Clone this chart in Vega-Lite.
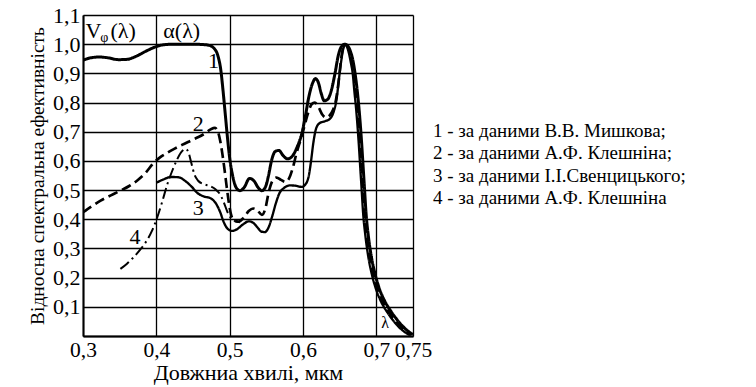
{
  "$schema": "https://vega.github.io/schema/vega-lite/v6.json",
  "width": 330,
  "height": 321,
  "autosize": {"type": "none"},
  "padding": {"left": 83, "top": 15, "right": 343, "bottom": 51},
  "background": "white",
  "config": {
    "view": {"stroke": null},
    "font": "Liberation Serif",
    "locale": {"number": {"decimal": ",", "thousands": " ", "grouping": [3], "currency": ["", ""]}},
    "axis": {"labelOverlap": false, "labelFlush": false, "labelBound": false}
  },
  "datasets": {
    "curves": [
      {"s": "1 - за даними В.В. Мишкова;", "x": 0.300, "y": 0.945},
      {"s": "1 - за даними В.В. Мишкова;", "x": 0.310, "y": 0.953},
      {"s": "1 - за даними В.В. Мишкова;", "x": 0.322, "y": 0.956},
      {"s": "1 - за даними В.В. Мишкова;", "x": 0.335, "y": 0.953},
      {"s": "1 - за даними В.В. Мишкова;", "x": 0.348, "y": 0.947},
      {"s": "1 - за даними В.В. Мишкова;", "x": 0.360, "y": 0.948},
      {"s": "1 - за даними В.В. Мишкова;", "x": 0.372, "y": 0.958},
      {"s": "1 - за даними В.В. Мишкова;", "x": 0.385, "y": 0.975},
      {"s": "1 - за даними В.В. Мишкова;", "x": 0.398, "y": 0.990},
      {"s": "1 - за даними В.В. Мишкова;", "x": 0.410, "y": 0.998},
      {"s": "1 - за даними В.В. Мишкова;", "x": 0.425, "y": 1.000},
      {"s": "1 - за даними В.В. Мишкова;", "x": 0.445, "y": 1.000},
      {"s": "1 - за даними В.В. Мишкова;", "x": 0.462, "y": 0.999},
      {"s": "1 - за даними В.В. Мишкова;", "x": 0.472, "y": 0.996},
      {"s": "1 - за даними В.В. Мишкова;", "x": 0.479, "y": 0.985},
      {"s": "1 - за даними В.В. Мишкова;", "x": 0.484, "y": 0.960},
      {"s": "1 - за даними В.В. Мишкова;", "x": 0.488, "y": 0.910},
      {"s": "1 - за даними В.В. Мишкова;", "x": 0.491, "y": 0.840},
      {"s": "1 - за даними В.В. Мишкова;", "x": 0.494, "y": 0.760},
      {"s": "1 - за даними В.В. Мишкова;", "x": 0.497, "y": 0.680},
      {"s": "1 - за даними В.В. Мишкова;", "x": 0.500, "y": 0.610},
      {"s": "1 - за даними В.В. Мишкова;", "x": 0.504, "y": 0.550},
      {"s": "1 - за даними В.В. Мишкова;", "x": 0.509, "y": 0.508},
      {"s": "1 - за даними В.В. Мишкова;", "x": 0.514, "y": 0.498},
      {"s": "1 - за даними В.В. Мишкова;", "x": 0.520, "y": 0.510},
      {"s": "1 - за даними В.В. Мишкова;", "x": 0.527, "y": 0.540},
      {"s": "1 - за даними В.В. Мишкова;", "x": 0.533, "y": 0.532},
      {"s": "1 - за даними В.В. Мишкова;", "x": 0.539, "y": 0.508},
      {"s": "1 - за даними В.В. Мишкова;", "x": 0.544, "y": 0.498},
      {"s": "1 - за даними В.В. Мишкова;", "x": 0.549, "y": 0.512},
      {"s": "1 - за даними В.В. Мишкова;", "x": 0.553, "y": 0.550},
      {"s": "1 - за даними В.В. Мишкова;", "x": 0.557, "y": 0.600},
      {"s": "1 - за даними В.В. Мишкова;", "x": 0.562, "y": 0.632},
      {"s": "1 - за даними В.В. Мишкова;", "x": 0.567, "y": 0.636},
      {"s": "1 - за даними В.В. Мишкова;", "x": 0.573, "y": 0.618},
      {"s": "1 - за даними В.В. Мишкова;", "x": 0.579, "y": 0.607},
      {"s": "1 - за даними В.В. Мишкова;", "x": 0.586, "y": 0.618},
      {"s": "1 - за даними В.В. Мишкова;", "x": 0.592, "y": 0.648},
      {"s": "1 - за даними В.В. Мишкова;", "x": 0.598, "y": 0.690},
      {"s": "1 - за даними В.В. Мишкова;", "x": 0.603, "y": 0.750},
      {"s": "1 - за даними В.В. Мишкова;", "x": 0.608, "y": 0.820},
      {"s": "1 - за даними В.В. Мишкова;", "x": 0.613, "y": 0.866},
      {"s": "1 - за даними В.В. Мишкова;", "x": 0.617, "y": 0.882},
      {"s": "1 - за даними В.В. Мишкова;", "x": 0.621, "y": 0.868},
      {"s": "1 - за даними В.В. Мишкова;", "x": 0.625, "y": 0.830},
      {"s": "1 - за даними В.В. Мишкова;", "x": 0.629, "y": 0.806},
      {"s": "1 - за даними В.В. Мишкова;", "x": 0.634, "y": 0.812},
      {"s": "1 - за даними В.В. Мишкова;", "x": 0.639, "y": 0.845},
      {"s": "1 - за даними В.В. Мишкова;", "x": 0.644, "y": 0.905},
      {"s": "1 - за даними В.В. Мишкова;", "x": 0.648, "y": 0.960},
      {"s": "1 - за даними В.В. Мишкова;", "x": 0.652, "y": 0.990},
      {"s": "1 - за даними В.В. Мишкова;", "x": 0.657, "y": 1.000},
      {"s": "1 - за даними В.В. Мишкова;", "x": 0.660, "y": 0.997},
      {"s": "1 - за даними В.В. Мишкова;", "x": 0.664, "y": 0.980},
      {"s": "1 - за даними В.В. Мишкова;", "x": 0.668, "y": 0.945},
      {"s": "1 - за даними В.В. Мишкова;", "x": 0.671, "y": 0.900},
      {"s": "1 - за даними В.В. Мишкова;", "x": 0.674, "y": 0.840},
      {"s": "1 - за даними В.В. Мишкова;", "x": 0.676, "y": 0.790},
      {"s": "1 - за даними В.В. Мишкова;", "x": 0.678, "y": 0.730},
      {"s": "1 - за даними В.В. Мишкова;", "x": 0.680, "y": 0.660},
      {"s": "1 - за даними В.В. Мишкова;", "x": 0.682, "y": 0.580},
      {"s": "1 - за даними В.В. Мишкова;", "x": 0.684, "y": 0.500},
      {"s": "1 - за даними В.В. Мишкова;", "x": 0.686, "y": 0.420},
      {"s": "1 - за даними В.В. Мишкова;", "x": 0.689, "y": 0.345},
      {"s": "1 - за даними В.В. Мишкова;", "x": 0.693, "y": 0.275},
      {"s": "1 - за даними В.В. Мишкова;", "x": 0.698, "y": 0.215},
      {"s": "1 - за даними В.В. Мишкова;", "x": 0.704, "y": 0.163},
      {"s": "1 - за даними В.В. Мишкова;", "x": 0.711, "y": 0.122},
      {"s": "1 - за даними В.В. Мишкова;", "x": 0.719, "y": 0.088},
      {"s": "1 - за даними В.В. Мишкова;", "x": 0.727, "y": 0.060},
      {"s": "1 - за даними В.В. Мишкова;", "x": 0.735, "y": 0.036},
      {"s": "1 - за даними В.В. Мишкова;", "x": 0.743, "y": 0.017},
      {"s": "1 - за даними В.В. Мишкова;", "x": 0.750, "y": 0.005},

      {"s": "2 - за даними А.Ф. Клешніна;", "x": 0.300, "y": 0.424},
      {"s": "2 - за даними А.Ф. Клешніна;", "x": 0.312, "y": 0.445},
      {"s": "2 - за даними А.Ф. Клешніна;", "x": 0.324, "y": 0.464},
      {"s": "2 - за даними А.Ф. Клешніна;", "x": 0.338, "y": 0.482},
      {"s": "2 - за даними А.Ф. Клешніна;", "x": 0.351, "y": 0.498},
      {"s": "2 - за даними А.Ф. Клешніна;", "x": 0.363, "y": 0.514},
      {"s": "2 - за даними А.Ф. Клешніна;", "x": 0.374, "y": 0.533},
      {"s": "2 - за даними А.Ф. Клешніна;", "x": 0.385, "y": 0.558},
      {"s": "2 - за даними А.Ф. Клешніна;", "x": 0.396, "y": 0.592},
      {"s": "2 - за даними А.Ф. Клешніна;", "x": 0.405, "y": 0.612},
      {"s": "2 - за даними А.Ф. Клешніна;", "x": 0.415, "y": 0.628},
      {"s": "2 - за даними А.Ф. Клешніна;", "x": 0.425, "y": 0.642},
      {"s": "2 - за даними А.Ф. Клешніна;", "x": 0.435, "y": 0.655},
      {"s": "2 - за даними А.Ф. Клешніна;", "x": 0.450, "y": 0.673},
      {"s": "2 - за даними А.Ф. Клешніна;", "x": 0.465, "y": 0.692},
      {"s": "2 - за даними А.Ф. Клешніна;", "x": 0.474, "y": 0.708},
      {"s": "2 - за даними А.Ф. Клешніна;", "x": 0.480, "y": 0.713},
      {"s": "2 - за даними А.Ф. Клешніна;", "x": 0.484, "y": 0.700},
      {"s": "2 - за даними А.Ф. Клешніна;", "x": 0.487, "y": 0.670},
      {"s": "2 - за даними А.Ф. Клешніна;", "x": 0.490, "y": 0.625},
      {"s": "2 - за даними А.Ф. Клешніна;", "x": 0.493, "y": 0.570},
      {"s": "2 - за даними А.Ф. Клешніна;", "x": 0.496, "y": 0.510},
      {"s": "2 - за даними А.Ф. Клешніна;", "x": 0.499, "y": 0.455},
      {"s": "2 - за даними А.Ф. Клешніна;", "x": 0.502, "y": 0.415},
      {"s": "2 - за даними А.Ф. Клешніна;", "x": 0.506, "y": 0.395},
      {"s": "2 - за даними А.Ф. Клешніна;", "x": 0.512, "y": 0.392},
      {"s": "2 - за даними А.Ф. Клешніна;", "x": 0.519, "y": 0.405},
      {"s": "2 - за даними А.Ф. Клешніна;", "x": 0.526, "y": 0.428},
      {"s": "2 - за даними А.Ф. Клешніна;", "x": 0.532, "y": 0.437},
      {"s": "2 - за даними А.Ф. Клешніна;", "x": 0.538, "y": 0.430},
      {"s": "2 - за даними А.Ф. Клешніна;", "x": 0.544, "y": 0.415},
      {"s": "2 - за даними А.Ф. Клешніна;", "x": 0.549, "y": 0.440},
      {"s": "2 - за даними А.Ф. Клешніна;", "x": 0.553, "y": 0.490},
      {"s": "2 - за даними А.Ф. Клешніна;", "x": 0.558, "y": 0.530},
      {"s": "2 - за даними А.Ф. Клешніна;", "x": 0.564, "y": 0.543},
      {"s": "2 - за даними А.Ф. Клешніна;", "x": 0.570, "y": 0.535},
      {"s": "2 - за даними А.Ф. Клешніна;", "x": 0.576, "y": 0.528},
      {"s": "2 - за даними А.Ф. Клешніна;", "x": 0.581, "y": 0.540},
      {"s": "2 - за даними А.Ф. Клешніна;", "x": 0.586, "y": 0.575},
      {"s": "2 - за даними А.Ф. Клешніна;", "x": 0.591, "y": 0.625},
      {"s": "2 - за даними А.Ф. Клешніна;", "x": 0.597, "y": 0.675},
      {"s": "2 - за даними А.Ф. Клешніна;", "x": 0.602, "y": 0.720},
      {"s": "2 - за даними А.Ф. Клешніна;", "x": 0.607, "y": 0.765},
      {"s": "2 - за даними А.Ф. Клешніна;", "x": 0.612, "y": 0.795},
      {"s": "2 - за даними А.Ф. Клешніна;", "x": 0.616, "y": 0.800},
      {"s": "2 - за даними А.Ф. Клешніна;", "x": 0.621, "y": 0.785},
      {"s": "2 - за даними А.Ф. Клешніна;", "x": 0.626, "y": 0.760},
      {"s": "2 - за даними А.Ф. Клешніна;", "x": 0.631, "y": 0.749},
      {"s": "2 - за даними А.Ф. Клешніна;", "x": 0.636, "y": 0.755},
      {"s": "2 - за даними А.Ф. Клешніна;", "x": 0.641, "y": 0.775},
      {"s": "2 - за даними А.Ф. Клешніна;", "x": 0.645, "y": 0.810},
      {"s": "2 - за даними А.Ф. Клешніна;", "x": 0.649, "y": 0.880},
      {"s": "2 - за даними А.Ф. Клешніна;", "x": 0.652, "y": 0.950},
      {"s": "2 - за даними А.Ф. Клешніна;", "x": 0.656, "y": 0.995},
      {"s": "2 - за даними А.Ф. Клешніна;", "x": 0.659, "y": 0.997},
      {"s": "2 - за даними А.Ф. Клешніна;", "x": 0.663, "y": 0.978},
      {"s": "2 - за даними А.Ф. Клешніна;", "x": 0.666, "y": 0.945},
      {"s": "2 - за даними А.Ф. Клешніна;", "x": 0.669, "y": 0.900},
      {"s": "2 - за даними А.Ф. Клешніна;", "x": 0.672, "y": 0.840},
      {"s": "2 - за даними А.Ф. Клешніна;", "x": 0.674, "y": 0.790},
      {"s": "2 - за даними А.Ф. Клешніна;", "x": 0.676, "y": 0.730},
      {"s": "2 - за даними А.Ф. Клешніна;", "x": 0.678, "y": 0.660},
      {"s": "2 - за даними А.Ф. Клешніна;", "x": 0.680, "y": 0.580},
      {"s": "2 - за даними А.Ф. Клешніна;", "x": 0.682, "y": 0.500},
      {"s": "2 - за даними А.Ф. Клешніна;", "x": 0.684, "y": 0.420},
      {"s": "2 - за даними А.Ф. Клешніна;", "x": 0.687, "y": 0.345},
      {"s": "2 - за даними А.Ф. Клешніна;", "x": 0.691, "y": 0.275},
      {"s": "2 - за даними А.Ф. Клешніна;", "x": 0.696, "y": 0.213},
      {"s": "2 - за даними А.Ф. Клешніна;", "x": 0.702, "y": 0.160},
      {"s": "2 - за даними А.Ф. Клешніна;", "x": 0.709, "y": 0.118},
      {"s": "2 - за даними А.Ф. Клешніна;", "x": 0.717, "y": 0.084},
      {"s": "2 - за даними А.Ф. Клешніна;", "x": 0.725, "y": 0.056},
      {"s": "2 - за даними А.Ф. Клешніна;", "x": 0.733, "y": 0.033},
      {"s": "2 - за даними А.Ф. Клешніна;", "x": 0.741, "y": 0.015},
      {"s": "2 - за даними А.Ф. Клешніна;", "x": 0.748, "y": 0.004},

      {"s": "3 - за даними І.І.Свенцицького;", "x": 0.400, "y": 0.525},
      {"s": "3 - за даними І.І.Свенцицького;", "x": 0.410, "y": 0.537},
      {"s": "3 - за даними І.І.Свенцицького;", "x": 0.420, "y": 0.545},
      {"s": "3 - за даними І.І.Свенцицького;", "x": 0.430, "y": 0.544},
      {"s": "3 - за даними І.І.Свенцицького;", "x": 0.440, "y": 0.530},
      {"s": "3 - за даними І.І.Свенцицького;", "x": 0.448, "y": 0.512},
      {"s": "3 - за даними І.І.Свенцицького;", "x": 0.456, "y": 0.490},
      {"s": "3 - за даними І.І.Свенцицького;", "x": 0.465, "y": 0.478},
      {"s": "3 - за даними І.І.Свенцицького;", "x": 0.474, "y": 0.472},
      {"s": "3 - за даними І.І.Свенцицького;", "x": 0.481, "y": 0.455},
      {"s": "3 - за даними І.І.Свенцицького;", "x": 0.487, "y": 0.425},
      {"s": "3 - за даними І.І.Свенцицького;", "x": 0.492, "y": 0.390},
      {"s": "3 - за даними І.І.Свенцицького;", "x": 0.497, "y": 0.368},
      {"s": "3 - за даними І.І.Свенцицького;", "x": 0.503, "y": 0.360},
      {"s": "3 - за даними І.І.Свенцицького;", "x": 0.510, "y": 0.366},
      {"s": "3 - за даними І.І.Свенцицького;", "x": 0.518, "y": 0.382},
      {"s": "3 - за даними І.І.Свенцицького;", "x": 0.526, "y": 0.393},
      {"s": "3 - за даними І.І.Свенцицького;", "x": 0.532, "y": 0.388},
      {"s": "3 - за даними І.І.Свенцицького;", "x": 0.538, "y": 0.372},
      {"s": "3 - за даними І.І.Свенцицького;", "x": 0.543, "y": 0.358},
      {"s": "3 - за даними І.І.Свенцицького;", "x": 0.548, "y": 0.356},
      {"s": "3 - за даними І.І.Свенцицького;", "x": 0.553, "y": 0.372},
      {"s": "3 - за даними І.І.Свенцицького;", "x": 0.558, "y": 0.410},
      {"s": "3 - за даними І.І.Свенцицького;", "x": 0.563, "y": 0.455},
      {"s": "3 - за даними І.І.Свенцицького;", "x": 0.568, "y": 0.490},
      {"s": "3 - за даними І.І.Свенцицького;", "x": 0.574, "y": 0.507},
      {"s": "3 - за даними І.І.Свенцицького;", "x": 0.582, "y": 0.516},
      {"s": "3 - за даними І.І.Свенцицького;", "x": 0.590, "y": 0.515},
      {"s": "3 - за даними І.І.Свенцицького;", "x": 0.598, "y": 0.511},
      {"s": "3 - за даними І.І.Свенцицького;", "x": 0.604, "y": 0.522},
      {"s": "3 - за даними І.І.Свенцицького;", "x": 0.608, "y": 0.550},
      {"s": "3 - за даними І.І.Свенцицького;", "x": 0.611, "y": 0.600},
      {"s": "3 - за даними І.І.Свенцицького;", "x": 0.614, "y": 0.660},
      {"s": "3 - за даними І.І.Свенцицького;", "x": 0.618, "y": 0.712},
      {"s": "3 - за даними І.І.Свенцицького;", "x": 0.623, "y": 0.730},
      {"s": "3 - за даними І.І.Свенцицького;", "x": 0.630, "y": 0.736},
      {"s": "3 - за даними І.І.Свенцицького;", "x": 0.637, "y": 0.745},
      {"s": "3 - за даними І.І.Свенцицького;", "x": 0.642, "y": 0.770},
      {"s": "3 - за даними І.І.Свенцицького;", "x": 0.646, "y": 0.815},
      {"s": "3 - за даними І.І.Свенцицького;", "x": 0.649, "y": 0.880},
      {"s": "3 - за даними І.І.Свенцицького;", "x": 0.652, "y": 0.940},
      {"s": "3 - за даними І.І.Свенцицького;", "x": 0.655, "y": 0.985},
      {"s": "3 - за даними І.І.Свенцицького;", "x": 0.658, "y": 0.998},
      {"s": "3 - за даними І.І.Свенцицького;", "x": 0.662, "y": 0.975},
      {"s": "3 - за даними І.І.Свенцицького;", "x": 0.665, "y": 0.940},
      {"s": "3 - за даними І.І.Свенцицького;", "x": 0.668, "y": 0.895},
      {"s": "3 - за даними І.І.Свенцицького;", "x": 0.670, "y": 0.840},
      {"s": "3 - за даними І.І.Свенцицького;", "x": 0.672, "y": 0.790},
      {"s": "3 - за даними І.І.Свенцицького;", "x": 0.674, "y": 0.730},
      {"s": "3 - за даними І.І.Свенцицького;", "x": 0.676, "y": 0.660},
      {"s": "3 - за даними І.І.Свенцицького;", "x": 0.678, "y": 0.580},
      {"s": "3 - за даними І.І.Свенцицького;", "x": 0.680, "y": 0.500},
      {"s": "3 - за даними І.І.Свенцицького;", "x": 0.682, "y": 0.420},
      {"s": "3 - за даними І.І.Свенцицького;", "x": 0.685, "y": 0.345},
      {"s": "3 - за даними І.І.Свенцицького;", "x": 0.689, "y": 0.272},
      {"s": "3 - за даними І.І.Свенцицького;", "x": 0.694, "y": 0.210},
      {"s": "3 - за даними І.І.Свенцицького;", "x": 0.700, "y": 0.157},
      {"s": "3 - за даними І.І.Свенцицького;", "x": 0.707, "y": 0.115},
      {"s": "3 - за даними І.І.Свенцицького;", "x": 0.715, "y": 0.081},
      {"s": "3 - за даними І.І.Свенцицького;", "x": 0.723, "y": 0.053},
      {"s": "3 - за даними І.І.Свенцицького;", "x": 0.731, "y": 0.030},
      {"s": "3 - за даними І.І.Свенцицького;", "x": 0.739, "y": 0.013},
      {"s": "3 - за даними І.І.Свенцицького;", "x": 0.746, "y": 0.003},

      {"s": "4 - за даними А.Ф. Клешніна", "x": 0.351, "y": 0.230},
      {"s": "4 - за даними А.Ф. Клешніна", "x": 0.360, "y": 0.248},
      {"s": "4 - за даними А.Ф. Клешніна", "x": 0.369, "y": 0.270},
      {"s": "4 - за даними А.Ф. Клешніна", "x": 0.378, "y": 0.296},
      {"s": "4 - за даними А.Ф. Клешніна", "x": 0.387, "y": 0.327},
      {"s": "4 - за даними А.Ф. Клешніна", "x": 0.394, "y": 0.360},
      {"s": "4 - за даними А.Ф. Клешніна", "x": 0.401, "y": 0.405},
      {"s": "4 - за даними А.Ф. Клешніна", "x": 0.408, "y": 0.460},
      {"s": "4 - за даними А.Ф. Клешніна", "x": 0.415, "y": 0.520},
      {"s": "4 - за даними А.Ф. Клешніна", "x": 0.422, "y": 0.568},
      {"s": "4 - за даними А.Ф. Клешніна", "x": 0.428, "y": 0.603},
      {"s": "4 - за даними А.Ф. Клешніна", "x": 0.434, "y": 0.630},
      {"s": "4 - за даними А.Ф. Клешніна", "x": 0.440, "y": 0.641},
      {"s": "4 - за даними А.Ф. Клешніна", "x": 0.444, "y": 0.628},
      {"s": "4 - за даними А.Ф. Клешніна", "x": 0.448, "y": 0.590},
      {"s": "4 - за даними А.Ф. Клешніна", "x": 0.452, "y": 0.553},
      {"s": "4 - за даними А.Ф. Клешніна", "x": 0.457, "y": 0.532},
      {"s": "4 - за даними А.Ф. Клешніна", "x": 0.465, "y": 0.520},
      {"s": "4 - за даними А.Ф. Клешніна", "x": 0.474, "y": 0.513},
      {"s": "4 - за даними А.Ф. Клешніна", "x": 0.481, "y": 0.502},
      {"s": "4 - за даними А.Ф. Клешніна", "x": 0.487, "y": 0.485},
      {"s": "4 - за даними А.Ф. Клешніна", "x": 0.492, "y": 0.458},
      {"s": "4 - за даними А.Ф. Клешніна", "x": 0.497, "y": 0.425},
      {"s": "4 - за даними А.Ф. Клешніна", "x": 0.502, "y": 0.403},
      {"s": "4 - за даними А.Ф. Клешніна", "x": 0.508, "y": 0.393},
      {"s": "4 - за даними А.Ф. Клешніна", "x": 0.514, "y": 0.390}
    ],
    "header": [
      {"x": 0.3035, "y": 1.045, "t": "V"},
      {"x": 0.3375, "y": 1.045, "t": "(λ)"},
      {"x": 0.4095, "y": 1.045, "t": "α(λ)"}
    ],
    "sub": [
      {"x": 0.3235, "y": 1.022, "t": "φ"}
    ],
    "tags": [
      {"x": 0.478, "y": 0.943, "t": "1"},
      {"x": 0.457, "y": 0.727, "t": "2"},
      {"x": 0.457, "y": 0.437, "t": "3"},
      {"x": 0.371, "y": 0.338, "t": "4"}
    ],
    "lam": [
      {"x": 0.712, "y": 0.045, "t": "λ"}
    ]
  },
  "layer": [
    {
      "data": {"name": "curves"},
      "mark": {"type": "line", "interpolate": "monotone", "color": "black", "clip": true},
      "encoding": {
        "x": {
          "field": "x", "type": "quantitative",
          "scale": {"domain": [0.3, 0.75], "nice": false, "zero": false},
          "axis": {
            "values": [0.3, 0.4, 0.5, 0.6, 0.7, 0.75],
            "labelExpr": "datum.value == 0.75 ? '0,75' : replace(format(datum.value, '.1f'), '.', ',')",
            "labelOverlap": false, "labelFlush": false,
            "labelFont": "Liberation Serif", "labelFontSize": 21.5, "labelColor": "black", "labelPadding": 3,
            "ticks": false,
            "domain": true, "domainColor": "black", "domainWidth": 2,
            "grid": true, "gridColor": "black", "gridWidth": 1.3, "gridOpacity": 1,
            "title": "Довжниа хвилі, мкм",
            "titleFont": "Liberation Serif", "titleFontSize": 22, "titleFontWeight": "normal", "titleColor": "black", "titlePadding": 2
          }
        },
        "y": {
          "field": "y", "type": "quantitative",
          "scale": {"domain": [0, 1.1], "nice": false, "zero": true},
          "axis": {
            "tickCount": 11,
            "format": ".1f",
            "labelExpr": "datum.value < 0.05 ? '' : datum.label",
            "labelOverlap": false, "labelFlush": false,
            "labelFont": "Liberation Serif", "labelFontSize": 22, "labelColor": "black", "labelPadding": 3,
            "ticks": false,
            "domain": true, "domainColor": "black", "domainWidth": 2,
            "grid": true, "gridColor": "black", "gridWidth": 1.3, "gridOpacity": 1,
            "title": "Відносна спектральна ефективність",
            "titleFont": "Liberation Serif", "titleFontSize": 19.5, "titleFontWeight": "normal", "titleColor": "black", "titlePadding": 5
          }
        },
        "detail": {"field": "s", "type": "nominal"},
        "strokeDash": {
          "field": "s", "type": "nominal",
          "scale": {
            "domain": ["1 - за даними В.В. Мишкова;", "2 - за даними А.Ф. Клешніна;", "3 - за даними І.І.Свенцицького;", "4 - за даними А.Ф. Клешніна"],
            "range": [[1, 0], [10, 5], [1, 0], [11, 4, 2, 4]]
          },
          "legend": {
            "title": null, "orient": "none", "legendX": 331, "legendY": 106,
            "symbolOpacity": 0, "symbolSize": 0, "symbolStrokeWidth": 0,
            "labelOffset": 0, "labelLimit": 0,
            "labelFont": "Liberation Serif", "labelFontSize": 19, "labelColor": "black",
            "rowPadding": 2.5
          }
        },
        "strokeWidth": {
          "field": "s", "type": "nominal",
          "scale": {
            "domain": ["1 - за даними В.В. Мишкова;", "2 - за даними А.Ф. Клешніна;", "3 - за даними І.І.Свенцицького;", "4 - за даними А.Ф. Клешніна"],
            "range": [3, 2, 2.4, 1.8]
          },
          "legend": null
        }
      }
    },
    {
      "data": {"name": "header"},
      "mark": {"type": "text", "align": "left", "baseline": "middle", "font": "Liberation Serif", "fontSize": 22, "color": "black"},
      "encoding": {
        "x": {"field": "x", "type": "quantitative"},
        "y": {"field": "y", "type": "quantitative"},
        "text": {"field": "t"}
      }
    },
    {
      "data": {"name": "sub"},
      "mark": {"type": "text", "align": "left", "baseline": "middle", "font": "Liberation Serif", "fontSize": 14, "color": "black"},
      "encoding": {
        "x": {"field": "x", "type": "quantitative"},
        "y": {"field": "y", "type": "quantitative"},
        "text": {"field": "t"}
      }
    },
    {
      "data": {"name": "tags"},
      "mark": {"type": "text", "align": "center", "baseline": "middle", "font": "Liberation Serif", "fontSize": 22, "color": "black"},
      "encoding": {
        "x": {"field": "x", "type": "quantitative"},
        "y": {"field": "y", "type": "quantitative"},
        "text": {"field": "t"}
      }
    },
    {
      "data": {"name": "lam"},
      "mark": {"type": "text", "align": "center", "baseline": "middle", "font": "Liberation Serif", "fontSize": 16, "color": "black"},
      "encoding": {
        "x": {"field": "x", "type": "quantitative"},
        "y": {"field": "y", "type": "quantitative"},
        "text": {"field": "t"}
      }
    }
  ]
}
